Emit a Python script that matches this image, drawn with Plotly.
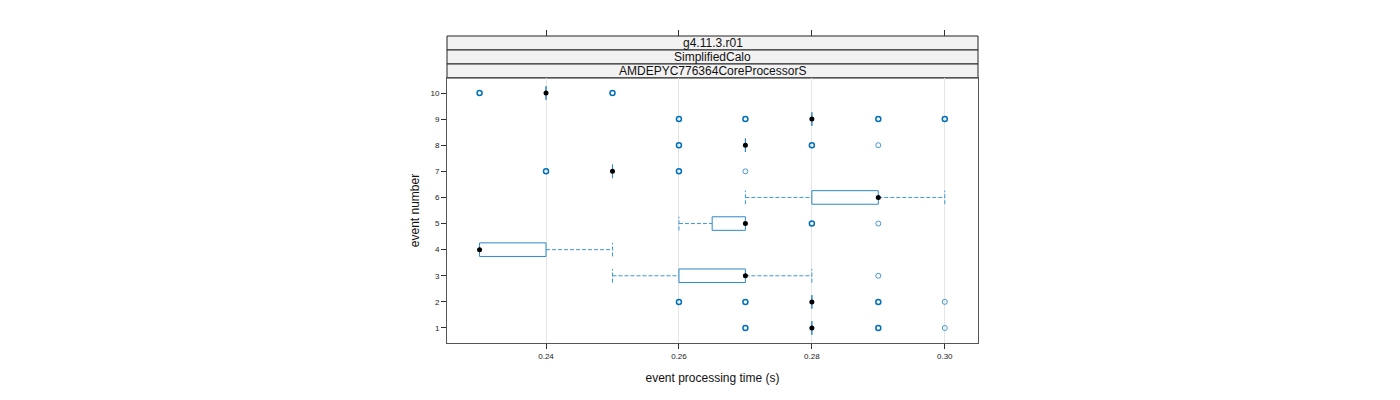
import plotly.graph_objects as go

# ---------------- data ----------------
events = [1, 2, 3, 4, 5, 6, 7, 8, 9, 10]
q1     = [0.28, 0.28, 0.26, 0.23, 0.265, 0.28, 0.25, 0.27, 0.28, 0.24]
median = [0.28, 0.28, 0.27, 0.23, 0.27, 0.29, 0.25, 0.27, 0.28, 0.24]
q3     = [0.28, 0.28, 0.27, 0.24, 0.27, 0.29, 0.25, 0.27, 0.28, 0.24]
lower  = [0.28, 0.28, 0.25, 0.23, 0.26, 0.27, 0.25, 0.27, 0.28, 0.24]
upper  = [0.28, 0.28, 0.28, 0.25, 0.27, 0.30, 0.25, 0.27, 0.28, 0.24]

out_event = [1, 1, 1, 2, 2, 2, 2, 3, 5, 5, 7, 7, 7, 8, 8, 8, 9, 9, 9, 9, 10, 10]
out_time  = [0.27, 0.29, 0.30, 0.26, 0.27, 0.29, 0.30, 0.29, 0.28, 0.29,
             0.24, 0.26, 0.27, 0.26, 0.28, 0.29, 0.26, 0.27, 0.29, 0.30, 0.23, 0.25]
out_count = [2, 2, 1, 2, 2, 2, 1, 1, 2, 1, 2, 2, 1, 2, 2, 1, 2, 2, 2, 2, 2, 2]

x_ticks = [0.24, 0.26, 0.28, 0.30]
x_tick_labels = ["0.24", "0.26", "0.28", "0.30"]
strip_labels = ["g4.11.3.r01", "SimplifiedCalo", "AMDEPYC776364CoreProcessorS"]

# ---------------- styling ----------------
BLUE = "rgb(45,135,200)"
BLUE_DARK = "rgb(0,112,185)"
BLUE_LIGHT = "rgb(70,150,210)"
DASH_BLUE = "rgb(60,150,215)"
H = 0.26
FONT = "Liberation Sans, Arial, sans-serif"

fig = go.Figure()

# boxes
bx, by = [], []
for e, a, b in zip(events, q1, q3):
    bx += [a, b, b, a, a, None]
    by += [e - H, e - H, e + H, e + H, e - H, None]
fig.add_trace(go.Scatter(x=bx, y=by, mode="lines", line=dict(color=BLUE, width=1),
                         hoverinfo="skip", showlegend=False))

# whiskers (dashed) and caps
wx, wy = [], []
for e, lo, a, b, hi in zip(events, lower, q1, q3, upper):
    if lo < a:
        wx += [lo, a, None, lo, lo, None]
        wy += [e, e, None, e - H, e + H, None]
    if hi > b:
        wx += [b, hi, None, hi, hi, None]
        wy += [e, e, None, e - H, e + H, None]
fig.add_trace(go.Scatter(x=wx, y=wy, mode="lines",
                         line=dict(color=DASH_BLUE, width=1, dash="4px,2px"),
                         hoverinfo="skip", showlegend=False))

# outliers
single_x = [t for t, c in zip(out_time, out_count) if c == 1]
single_y = [e for e, c in zip(out_event, out_count) if c == 1]
multi_x = [t for t, c in zip(out_time, out_count) if c > 1]
multi_y = [e for e, c in zip(out_event, out_count) if c > 1]
fig.add_trace(go.Scatter(x=single_x, y=single_y, mode="markers",
                         marker=dict(symbol="circle-open", size=5, color=BLUE_LIGHT,
                                     line=dict(width=1, color=BLUE_LIGHT)),
                         showlegend=False))
fig.add_trace(go.Scatter(x=multi_x, y=multi_y, mode="markers",
                         marker=dict(symbol="circle-open", size=5, color=BLUE_DARK,
                                     line=dict(width=1.5, color=BLUE_DARK)),
                         showlegend=False))

# medians
fig.add_trace(go.Scatter(x=median, y=events, mode="markers",
                         marker=dict(symbol="circle", size=5, color="black"),
                         showlegend=False))

# ---------------- layout ----------------
# the page body adds an 8px offset, compensate in the margins
OFF = 8
ML, MR, MT, MB = 447 - OFF, 422 + OFF, 36 - OFF, 57 + OFF
plot_h = 400 - MT - MB
panel_top = (343 - 78) / plot_h
strip_h = (1 - panel_top) / 3

shapes = []
annotations = []
for i, lab in enumerate(strip_labels):
    y0 = 1 - (i + 1) * strip_h
    y1 = 1 - i * strip_h
    shapes.append(dict(type="rect", xref="paper", yref="paper", x0=0, x1=1, y0=y0, y1=y1,
                       fillcolor="#f2f2f2", line=dict(color="#222222", width=1), layer="below"))
    annotations.append(dict(text=lab, xref="paper", yref="paper", x=0.5, y=(y0 + y1) / 2,
                            showarrow=False, font=dict(size=12, color="#111111", family=FONT),
                            xanchor="center", yanchor="middle"))

fig.update_layout(
    width=1400, height=400,
    margin=dict(l=ML, r=MR, t=MT, b=MB),
    paper_bgcolor="white", plot_bgcolor="white",
    font=dict(family=FONT, color="#111111"),
    shapes=shapes, annotations=annotations,
    xaxis=dict(range=[0.2251, 0.3050], tickvals=x_ticks, ticktext=x_tick_labels,
               showgrid=True, gridcolor="#e6e6e6", gridwidth=1, zeroline=False,
               showline=True, linecolor="#555555", linewidth=1, mirror=True,
               ticks="outside", ticklen=5, tickcolor="#333333",
               tickfont=dict(size=8, family=FONT, color="#222222"),
               title=dict(text="event processing time (s)", font=dict(size=12, family=FONT),
                          standoff=14)),
    xaxis2=dict(range=[0.2251, 0.3050], tickvals=x_ticks, ticktext=["", "", "", ""],
                overlaying="x", side="top", anchor="free", position=1.0,
                showgrid=False, zeroline=False, showline=False,
                ticks="outside", ticklen=6, tickcolor="#333333", showticklabels=False),
    yaxis=dict(range=[0.425, 10.575], domain=[0, panel_top], tickvals=events,
               ticktext=[str(e) for e in events],
               showgrid=False, zeroline=False,
               showline=True, linecolor="#555555", linewidth=1, mirror=True,
               ticks="outside", ticklen=5, tickcolor="#333333",
               tickfont=dict(size=8, family=FONT, color="#222222"),
               title=dict(text="event number", font=dict(size=12, family=FONT), standoff=8)),
)
# invisible trace to activate the top axis
fig.add_trace(go.Scatter(x=[x_ticks[0]], y=[events[0]], xaxis="x2", mode="markers",
                         marker=dict(opacity=0), hoverinfo="skip", showlegend=False))

fig.write_html("out.html")
